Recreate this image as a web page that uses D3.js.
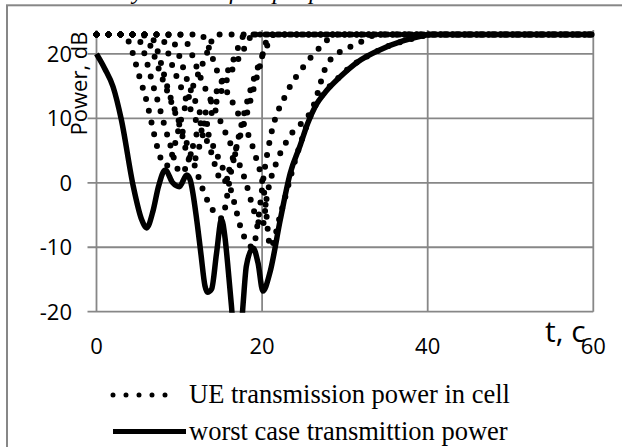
<!DOCTYPE html>
<html>
<head>
<meta charset="utf-8">
<script src="https://cdn.jsdelivr.net/npm/d3@7"></script>
<style>
  html, body { margin: 0; padding: 0; background: #fff; }
  svg { display: block; }
</style>
</head>
<body>
<div id="chart"></div>
<script>
// axis ticks
const xTicks = [0, 20, 40, 60];
const yTicks = [-20, -10, 0, 10, 20];

// worst case transmission power [t, dB]
const worstCase = [
  [0, 20], [1, 17.7], [2, 14.9], [3, 9.8], [4.45, -0.6], [5.45, -5.7], [6.06, -7], [6.8, -4.5],
  [7.5, -0.5], [8.3, 2], [9.2, 0], [10, -0.6], [10.9, 1.2], [11.3, 0.5], [12.1, -5.7], [12.6, -10.9],
  [13.1, -16], [13.4, -17], [13.9, -16.5], [14.5, -10.9], [15.1, -5.7], [15.5, -8.3], [15.9, -13.4],
  [16.3, -19.1], [16.8, -27], [17.2, -27], [17.7, -18.9], [18.1, -12.9], [18.9, -10.1], [19.5, -12.4],
  [20.1, -16.8], [20.95, -13.9], [22.2, -5.7], [23.4, 1.5], [24.6, 5.8], [25.5, 9.2], [26.4, 11.8],
  [27.8, 14.3], [29.4, 16.4], [31.5, 18.7], [34.2, 20.6], [37, 22], [39, 22.7], [40.5, 23], [60, 23]
];

// UE transmission power in cell, one array per UE [t, dB]
const ue1 = [[0, 23], [3.2, 23], [5.6, 14.7], [8.4, 2.6], [10.5, 11], [13, 19], [14.5, 23], [60, 23]];
const ue2 = [[0, 23], [4.6, 23], [7.07, 14.1], [8.67, 6.9], [10.2, 1.5], [12.5, 9], [16.5, 19], [18, 23], [60, 23]];
const ue3 = [[0, 23], [6.3, 23], [9, 13], [11.5, 4], [13.5, -3], [15.1, -5.5], [16.3, 2], [18.5, 14], [20.5, 21], [21.5, 23], [60, 23]];
const ue4 = [[0, 23], [8.5, 23], [11.5, 14], [14, 6], [16.2, -1], [17.7, -8], [18.9, -10], [19.6, -5], [20.3, 2], [21, 7], [23, 14], [25, 18], [27, 21], [29, 23], [60, 23]];
const ue5 = [[0, 23], [10, 23], [13, 15], [15.5, 8], [17.8, 1], [19.5, -6], [20, -7], [20.6, -2], [22, 4], [23.4, 7.3], [26.1, 11.6], [28, 18.7], [31.7, 21.7], [34, 23], [60, 23]];
const ue6 = [[0, 23], [12.5, 23], [15, 16], [17, 11], [19, 5], [20.3, -2], [21, -10], [22.2, -5], [24, 3.5], [26, 10.8], [29.4, 16.5], [34.2, 20.6], [39, 22.6], [40.5, 23], [60, 23]];
const ue7 = [[0, 23], [7.5, 23], [9.5, 17], [11.5, 11], [13.5, 6], [15.3, 0], [16.5, 4], [18, 10], [19.5, 17], [21, 23], [60, 23]];
const ue8 = [[0, 23], [5.5, 23], [8, 16], [10, 9], [11.5, 3], [13, 8], [15, 14], [17.5, 20], [19, 23], [60, 23]];
const ueSeries = [ue1, ue2, ue3, ue4, ue5, ue6, ue7, ue8];

const legendLabels = ['UE transmission power in cell', 'worst case transmittion power'];

const width = 622;
const height = 447;
const plot = { left: 96.5, right: 593.3, top: 30, bottom: 311.7 };
const gridColor = '#878787';

const svg = d3.select('#chart').append('svg').attr('width', width).attr('height', height);

const x = d3.scaleLinear().domain([0, 60]).range([plot.left, plot.right]);
const y = d3.scaleLinear().domain([-20, 23.7]).range([plot.bottom, plot.top]);

// title, mostly cut off by the page edge
svg
  .append('text')
  .attr('x', 275)
  .attr('y', -1)
  .attr('text-anchor', 'middle')
  .style('font-family', '"Liberation Serif", serif')
  .style('font-style', 'italic')
  .style('font-size', '24px')
  .text('Dynamics of output power in cell');

// outer frame
svg
  .append('rect')
  .attr('x', 7)
  .attr('y', 5.3)
  .attr('width', 700)
  .attr('height', 600)
  .attr('fill', 'none')
  .attr('stroke', gridColor)
  .attr('stroke-width', 2);

// horizontal gridlines (run a bit left of the axis like excel ticks)
svg
  .append('g')
  .selectAll('line')
  .data(yTicks)
  .enter()
  .append('line')
  .attr('x1', plot.left - 9)
  .attr('x2', plot.right)
  .attr('y1', (d) => y(d))
  .attr('y2', (d) => y(d))
  .attr('stroke', gridColor)
  .attr('stroke-width', 1.8);

// vertical gridlines
svg
  .append('g')
  .selectAll('line')
  .data(xTicks)
  .enter()
  .append('line')
  .attr('x1', (d) => x(d))
  .attr('x2', (d) => x(d))
  .attr('y1', plot.top)
  .attr('y2', plot.bottom)
  .attr('stroke', gridColor)
  .attr('stroke-width', 1.8);

// y tick labels
svg
  .append('g')
  .selectAll('text')
  .data(yTicks)
  .enter()
  .append('text')
  .attr('x', 72)
  .attr('y', (d) => y(d) + 8)
  .attr('text-anchor', 'end')
  .style('font-family', '"Open Sans", sans-serif')
  .style('font-size', '22px')
  .text((d) => d);

// x tick labels
svg
  .append('g')
  .selectAll('text')
  .data(xTicks)
  .enter()
  .append('text')
  .attr('x', (d) => x(d))
  .attr('y', 354)
  .attr('text-anchor', 'middle')
  .style('font-family', '"Open Sans", sans-serif')
  .style('font-size', '22px')
  .text((d) => d);

// axis titles
svg
  .append('text')
  .attr('transform', 'translate(87,83.5) rotate(-90)')
  .attr('text-anchor', 'middle')
  .style('font-family', '"Open Sans", sans-serif')
  .style('font-size', '22px')
  .text('Power, dB');

svg
  .append('text')
  .attr('x', 545)
  .attr('y', 342)
  .style('font-family', '"Open Sans", sans-serif')
  .style('font-size', '30px')
  .text('t, c');

svg
  .append('defs')
  .append('clipPath')
  .attr('id', 'plot-clip')
  .append('rect')
  .attr('x', plot.left - 10)
  .attr('y', plot.top - 10)
  .attr('width', plot.right - plot.left + 20)
  .attr('height', plot.bottom - plot.top + 11);

const line = d3
  .line()
  .x((d) => x(d[0]))
  .y((d) => y(d[1]))
  .curve(d3.curveMonotoneX);

const series = svg.append('g').attr('clip-path', 'url(#plot-clip)');

// dotted UE curves
series
  .selectAll('path.ue')
  .data(ueSeries)
  .enter()
  .append('path')
  .attr('class', 'ue')
  .attr('d', line)
  .attr('fill', 'none')
  .attr('stroke', '#000')
  .attr('stroke-width', 6)
  .attr('stroke-linecap', 'round')
  .attr('stroke-dasharray', '0 12');

// worst case
series
  .append('path')
  .datum(worstCase)
  .attr('d', line)
  .attr('fill', 'none')
  .attr('stroke', '#000')
  .attr('stroke-width', 5.5)
  .attr('stroke-linejoin', 'round');

// legend
const legend = svg.append('g');
const legendY = [395, 431.5];

legend
  .append('line')
  .attr('x1', 113)
  .attr('x2', 178)
  .attr('y1', legendY[0])
  .attr('y2', legendY[0])
  .attr('stroke', '#000')
  .attr('stroke-width', 5)
  .attr('stroke-linecap', 'round')
  .attr('stroke-dasharray', '0 13');

legend
  .append('line')
  .attr('x1', 113)
  .attr('x2', 186)
  .attr('y1', legendY[1])
  .attr('y2', legendY[1])
  .attr('stroke', '#000')
  .attr('stroke-width', 5);

legend
  .selectAll('text')
  .data(legendLabels)
  .enter()
  .append('text')
  .attr('x', 189)
  .attr('y', (d, i) => legendY[i] + 8)
  .style('font-family', '"Liberation Serif", "Times New Roman", serif')
  .style('font-size', '26.5px')
  .text((d) => d);
</script>
</body>
</html>
